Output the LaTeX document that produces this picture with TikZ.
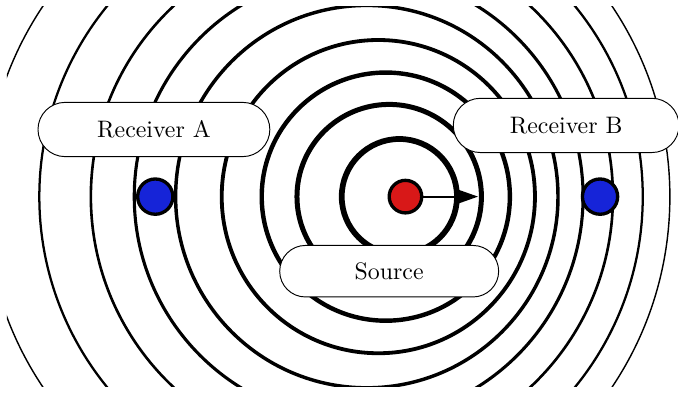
\documentclass[tikz,border=0pt]{standalone}
\usetikzlibrary{arrows.meta,shapes.misc}
\definecolor{srcred}{RGB}{216,24,24}
\definecolor{rcvblue}{RGB}{22,36,216}

\begin{document}
\begin{tikzpicture}[
      wave/.style={draw=black},
      dot/.style={circle, draw=black, line width=1.4pt, inner sep=0pt, minimum size=0.52cm},
      lbl/.style={rounded rectangle, draw, fill=white, inner sep=2pt, minimum height=0.8cm}]
    \useasboundingbox (0,0) rectangle (10,5.8);
    \begin{scope}
      \clip (0.1,0.1) rectangle (9.93,5.7);
      \draw[wave, line width=2.4pt]  (5.89,2.9) circle (0.85);
      \draw[wave, line width=2.1pt]  (5.74,2.9) circle (1.36);
      \draw[wave, line width=1.85pt] (5.69,2.9) circle (1.83);
      \draw[wave, line width=1.6pt]  (5.58,2.9) circle (2.31);
      \draw[wave, line width=1.45pt] (5.41,2.9) circle (2.82);
      \draw[wave, line width=1.3pt]  (5.29,2.9) circle (3.31);
      \draw[wave, line width=1.1pt]  (5.19,2.9) circle (3.85);
      \draw[wave, line width=0.95pt] (5.03,2.9) circle (4.45);
      \draw[wave, line width=0.6pt]  (4.83,2.9) circle (5.05);
    \end{scope}
    \coordinate (tip) at (7.05,2.9);
    \node[dot, fill=srcred, minimum size=0.48cm] (src) at (5.98,2.9) {};
    \node[dot, fill=rcvblue] (rcvA) at (2.29,2.9) {};
    \node[dot, fill=rcvblue] (rcvB) at (8.85,2.9) {};
    \draw[-{Stealth[length=10pt,width=7pt,inset=2pt]}, thick] (src) -- (tip);
    \node[lbl, minimum width=3.56cm] (lblA) at (2.27,3.89) {Receiver A};
    \node[lbl, minimum width=3.47cm] (lblB) at (8.35,3.95) {Receiver B};
    \node[lbl, minimum width=3.37cm, minimum height=0.76cm] (lblS) at (5.74,1.8) {Source};
  \end{tikzpicture}
\end{document}
